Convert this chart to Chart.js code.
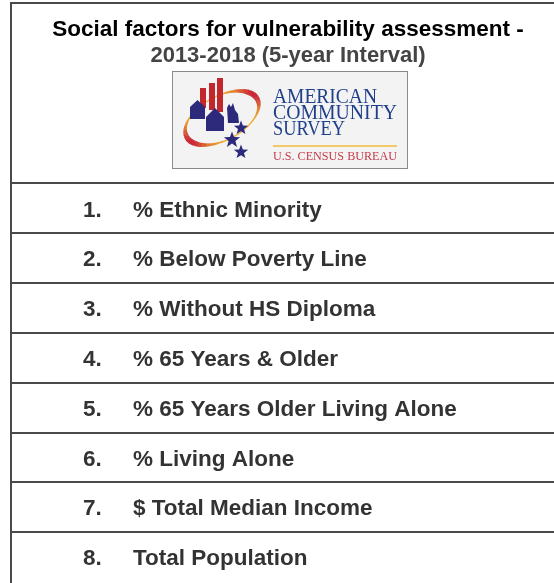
<!DOCTYPE html>
<html>
<head>
<meta charset="utf-8">
<script src="https://cdn.jsdelivr.net/npm/chart.js@4"></script>
<style>
    body { margin: 0; background: #ffffff; }
    #wrap { width: 554px; height: 583px; overflow: hidden; position: relative; }
    #table-chart { position: absolute; left: 0; top: 0; }
</style>
</head>
<body>
<div id="wrap"><canvas id="table-chart" width="565" height="600"></canvas></div>
<script>
var titleText = "Social factors for vulnerability assessment -";
var subtitleText = "2013-2018 (5-year Interval)";
var factorNumbers = ["1.", "2.", "3.", "4.", "5.", "6.", "7.", "8."];
var factorLabels = [
    "% Ethnic Minority",
    "% Below Poverty Line",
    "% Without HS Diploma",
    "% 65 Years & Older",
    "% 65 Years Older Living Alone",
    "% Living Alone",
    "$ Total Median Income",
    "Total Population"
];
var logoLines = ["AMERICAN", "COMMUNITY", "SURVEY"];
var logoFooter = "U.S. CENSUS BUREAU";

var lineColor = '#4a4a4a';
var sansFont = "'Liberation Sans', Arial, sans-serif";
var serifFont = "'Liberation Serif', 'Times New Roman', serif";

var DrawStar = (ctx, cx, cy, r) => {
    ctx.beginPath();
    for (var i = 0; i < 10; i++) {
        var a = -Math.PI / 2 + i * Math.PI / 5;
        var rr = (i % 2 == 0) ? r : r * 0.42;
        ctx.lineTo(cx + rr * Math.cos(a), cy + rr * Math.sin(a));
    }
    ctx.closePath();
    ctx.fill();
};

var DrawHouse = (ctx, x, y, w, h, roof) => {
    ctx.beginPath();
    ctx.moveTo(x, y + roof);
    ctx.lineTo(x + w / 2, y);
    ctx.lineTo(x + w, y + roof);
    ctx.lineTo(x + w, y + h);
    ctx.lineTo(x, y + h);
    ctx.closePath();
    ctx.fill();
};

var DrawSwoosh = (ctx) => {
    var cx = 222, cy = 118, rx = 40, ry = 22, phi = -28 * Math.PI / 180;
    var steps = 120;
    for (var i = 0; i < steps; i++) {
        var a0 = i / steps * Math.PI * 2;
        var a1 = (i + 1) / steps * Math.PI * 2;
        var mid = (a0 + a1) / 2;
        var b1 = Math.max(0, Math.cos(mid - 165 * Math.PI / 180));
        var b2 = Math.max(0, Math.cos(mid - 345 * Math.PI / 180));
        var t = Math.max(Math.pow(b1, 4), Math.pow(b2, 4));
        var r = Math.round(240 + (200 - 240) * t);
        var g = Math.round(176 + (32 - 176) * t);
        var b = Math.round(48 + (47 - 48) * t);
        ctx.strokeStyle = 'rgb(' + r + ',' + g + ',' + b + ')';
        ctx.lineWidth = 1.3 + 4.2 * t;
        ctx.beginPath();
        ctx.ellipse(cx, cy, rx, ry, phi, a0, a1 + 0.01);
        ctx.stroke();
    }
};

var logoPlugin = {
    id: 'acsLogo',
    afterDraw: (chart) => {
        var ctx = chart.ctx;
        ctx.save();
        // box
        ctx.fillStyle = '#f3f3f3';
        ctx.fillRect(172, 71, 236, 98);
        ctx.strokeStyle = '#8a8a8a';
        ctx.lineWidth = 1;
        ctx.strokeRect(172.5, 71.5, 235, 97);
        DrawSwoosh(ctx);
        // bars
        ctx.fillStyle = '#c1272d';
        ctx.fillRect(200, 88, 6, 20);
        ctx.fillRect(209, 83, 6, 27);
        ctx.fillRect(217, 78, 6, 34);
        // houses
        ctx.fillStyle = '#2d2a7c';
        DrawHouse(ctx, 190, 100, 15, 19, 7);
        DrawHouse(ctx, 206, 108, 18, 23, 9);
        ctx.beginPath();
        ctx.moveTo(227, 108);
        ctx.lineTo(229, 104);
        ctx.lineTo(231, 107);
        ctx.lineTo(233, 103);
        ctx.lineTo(235, 110);
        ctx.lineTo(238, 114);
        ctx.lineTo(239, 123);
        ctx.lineTo(228, 123);
        ctx.closePath();
        ctx.fill();
        // stars
        DrawStar(ctx, 241, 128, 7.5);
        DrawStar(ctx, 232, 140, 8.5);
        DrawStar(ctx, 241, 152, 7.5);
        // words
        ctx.fillStyle = '#1f3f8a';
        ctx.textAlign = 'left';
        ctx.textBaseline = 'alphabetic';
        ctx.font = '20px ' + serifFont;
        ctx.fillText(logoLines[0], 273, 103, 104);
        ctx.fillText(logoLines[1], 273, 119, 124);
        ctx.fillText(logoLines[2], 273, 135, 72);
        ctx.fillStyle = '#f2c96a';
        ctx.fillRect(273, 145, 124, 2);
        ctx.fillStyle = '#c23b4a';
        ctx.font = '13px ' + serifFont;
        ctx.fillText(logoFooter, 273, 160, 124);
        ctx.restore();
    }
};

var framePlugin = {
    id: 'headerFrame',
    beforeDraw: (chart) => {
        var ctx = chart.ctx;
        var area = chart.chartArea;
        ctx.save();
        ctx.strokeStyle = lineColor;
        ctx.lineWidth = 2;
        ctx.beginPath();
        ctx.moveTo(area.left, 3);
        ctx.lineTo(chart.width, 3);
        ctx.moveTo(area.left, 2);
        ctx.lineTo(area.left, area.top);
        ctx.stroke();
        ctx.restore();
    }
};

var rowTextPlugin = {
    id: 'rowText',
    afterDraw: (chart) => {
        var ctx = chart.ctx;
        var yScale = chart.scales.y;
        ctx.save();
        ctx.fillStyle = '#333333';
        ctx.font = 'bold 22.5px ' + sansFont;
        ctx.textBaseline = 'middle';
        ctx.textAlign = 'left';
        for (var i = 0; i < factorLabels.length; i++) {
            var y = yScale.getPixelForValue(i) + 2;
            ctx.fillText(factorNumbers[i], 83, y);
            ctx.fillText(factorLabels[i], 133, y);
        }
        ctx.restore();
    }
};

var PlotTable = () => {
    var canvas = document.getElementById('table-chart').getContext('2d');
    var table = new Chart(canvas, {
        type: 'bar',
        data: {
            labels: factorLabels,
            datasets: [{ label: 'factors', data: [] }]
        },
        options: {
            responsive: false,
            animation: false,
            indexAxis: 'y',
            layout: { padding: { left: 11, right: 0, top: 0, bottom: 18 } },
            plugins: {
                legend: { display: false },
                tooltip: { enabled: false },
                title: {
                    display: true,
                    text: titleText,
                    color: '#000000',
                    font: { family: sansFont, weight: 'bold', size: 22.5 },
                    padding: { top: 16, bottom: 0 }
                },
                subtitle: {
                    display: true,
                    text: subtitleText,
                    color: '#444444',
                    font: { family: sansFont, weight: 'bold', size: 22 },
                    padding: { top: 0, bottom: 114 }
                }
            },
            scales: {
                x: { display: false },
                y: {
                    type: 'category',
                    offset: true,
                    grid: {
                        offset: true,
                        lineWidth: 2,
                        drawTicks: false,
                        // the table runs past the bottom of the picture, so no closing line
                        color: (c) => c.type == 'tick' ? lineColor : 'rgba(0,0,0,0)'
                    },
                    border: { display: true, color: lineColor, width: 2 },
                    ticks: { display: false }
                }
            }
        },
        plugins: [framePlugin, logoPlugin, rowTextPlugin]
    });
};
PlotTable();
</script>
</body>
</html>
